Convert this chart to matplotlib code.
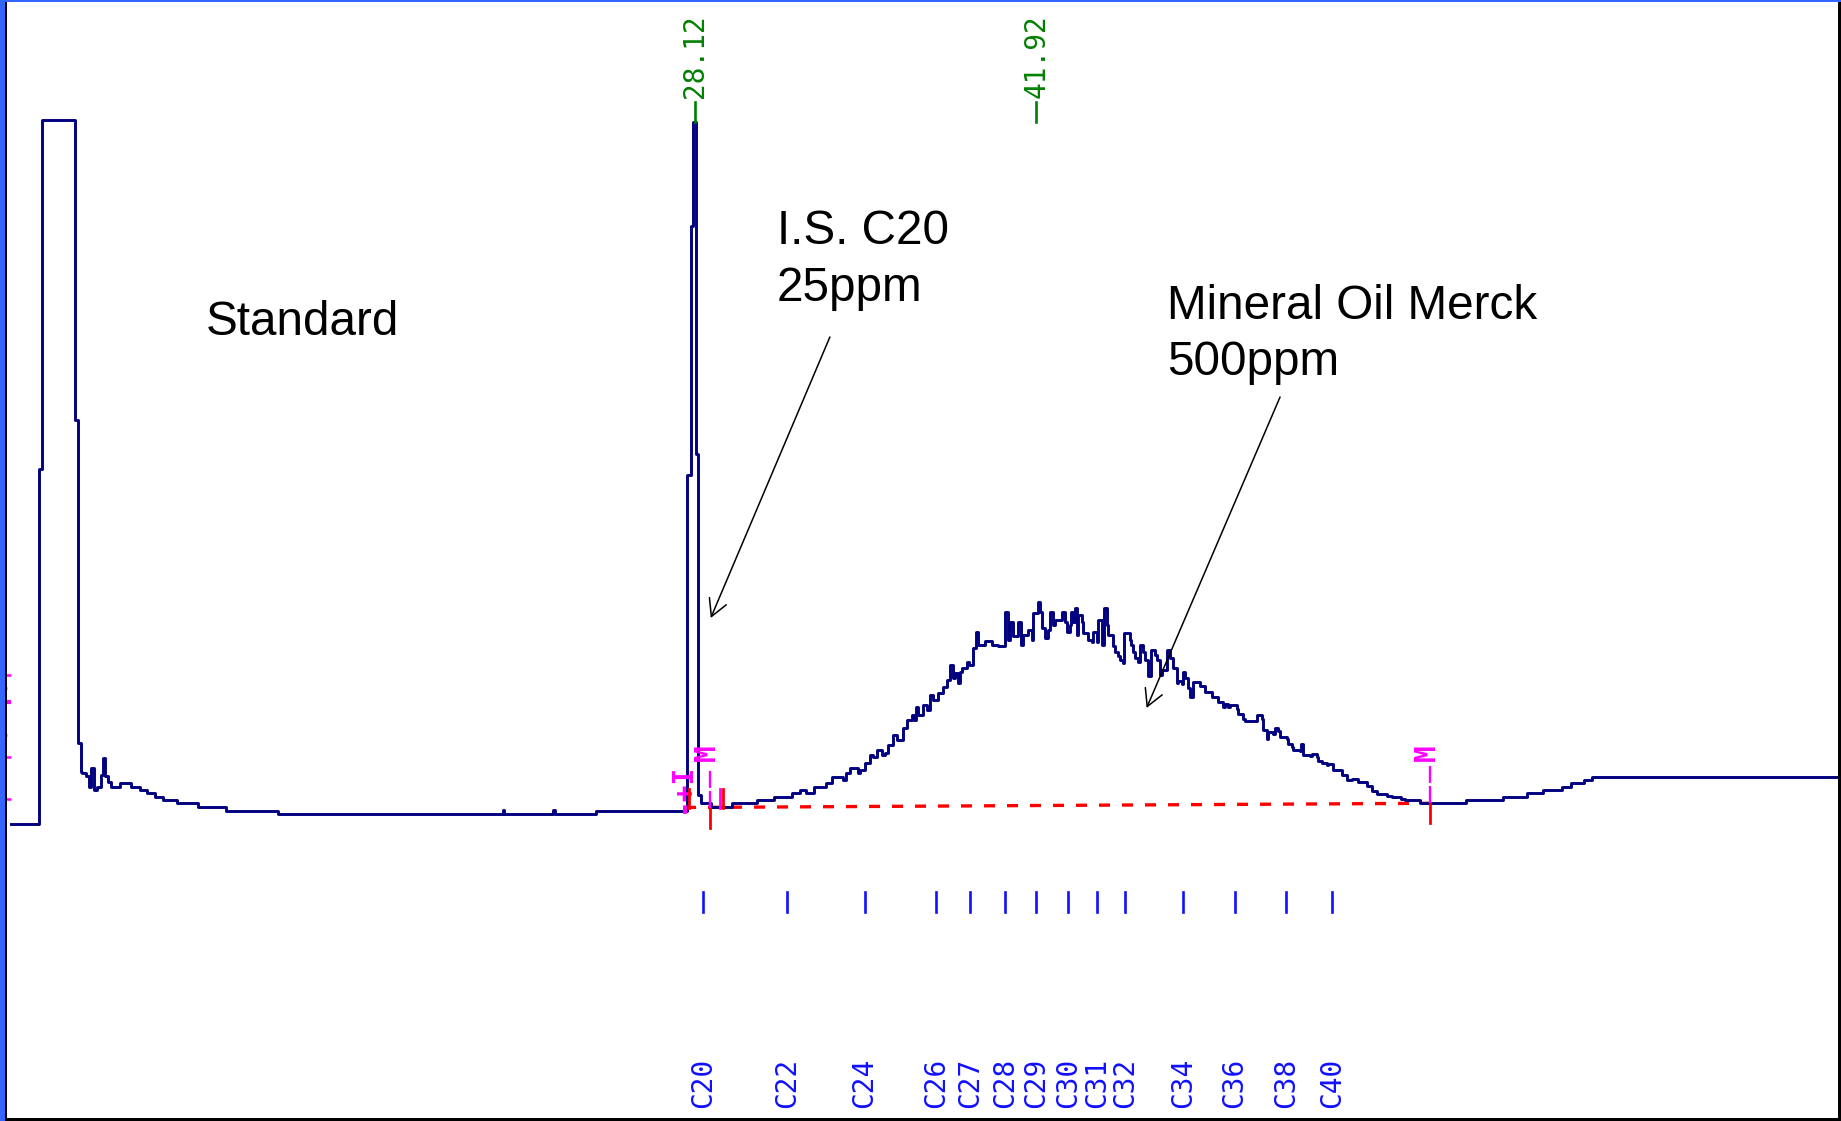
import matplotlib
matplotlib.use("Agg")
import matplotlib.pyplot as plt
from matplotlib.patches import Rectangle

# ---- chromatogram trace: retention time (min) vs detector signal (counts) ----
ret_time = [0.44, 1.58, 1.70, 3.05, 3.16, 3.26, 3.32, 3.48, 3.58, 3.70, 3.80, 3.92,
            4.07, 4.17, 4.25, 4.37, 4.49, 4.85, 5.30, 5.66, 5.93, 6.27, 6.59, 7.18,
            7.99, 9.16, 11.25, 20.33, 20.37, 22.37, 22.45, 24.11,
            27.77, 27.95, 28.05, 28.17, 28.25, 28.34, 28.76, 29.59, 30.62, 31.31,
            32.02, 32.36, 32.62, 32.93, 33.43, 33.65, 34.10, 34.22, 34.38, 34.71,
            34.79, 34.99, 35.19, 35.31, 35.48, 35.68, 35.80, 35.92, 36.12, 36.28,
            36.53, 36.69, 36.89, 36.97, 37.05, 37.13, 37.34, 37.50, 37.62, 37.74,
            37.94, 38.14, 38.31, 38.43, 38.55, 38.63, 38.75, 38.83, 38.91, 39.12,
            39.20, 39.36, 39.48, 39.56, 39.84, 40.13, 40.37, 40.65, 40.77, 40.85,
            40.98, 41.18, 41.30, 41.38, 41.58, 41.74, 41.79, 41.99, 42.07, 42.15,
            42.27, 42.39, 42.47, 42.59, 42.68, 42.96, 43.08, 43.16, 43.28, 43.32,
            43.40, 43.48, 43.57, 43.61, 43.77, 43.81, 44.01, 44.17, 44.21, 44.37,
            44.42, 44.58, 44.66, 44.78, 44.82, 45.02, 45.10, 45.22, 45.30, 45.43,
            45.47, 45.71, 45.75, 45.83, 45.91, 46.03, 46.11, 46.24, 46.32, 46.44,
            46.56, 46.72, 46.80, 46.92, 47.00, 47.21, 47.33, 47.45, 47.61, 47.65,
            47.81, 47.85, 47.93, 48.05, 48.14, 48.26, 48.54, 48.74, 49.03, 49.27,
            49.47, 49.55, 49.67, 49.75, 50.04, 50.08, 50.28, 50.36, 50.85, 51.05,
            51.09, 51.25, 51.29, 51.49, 51.57, 51.70, 51.78, 52.06, 52.10, 52.26,
            52.30, 52.59, 52.63, 52.71, 52.99, 53.07, 53.27, 53.31, 53.48, 53.68,
            53.72, 53.92, 54.28, 54.49, 54.69, 54.93, 55.30, 55.50, 55.70, 56.11,
            56.31, 56.67, 56.83, 57.44, 59.30, 60.80, 61.77, 62.42, 63.18, 63.55,
            64.08, 64.40, 74.43]
signal = [-10, 345, 694, 394, 71, 42, 41, 38, 27, 46, 24, 27,
          39, 56, 38, 32, 27, 31, 27, 24, 21, 17, 14, 11,
          7, 3, 0, 4, 0, 4, 0, 3,
          339, 588, 692, 360, 19, 11, 7, 11, 14, 17,
          21, 24, 21, 27, 31, 37, 34, 41, 46, 41,
          44, 51, 59, 57, 64, 59, 61, 69, 79, 74,
          86, 94, 99, 94, 107, 99, 109, 104, 119, 114,
          121, 127, 134, 149, 136, 141, 131, 142, 146, 152,
          149, 166, 182, 169, 173, 169, 168, 202, 174, 192,
          178, 192, 169, 179, 184, 174, 201, 212, 202, 186,
          176, 184, 202, 189, 194, 202, 192, 182, 189, 202,
          192, 206, 179, 199, 192, 181, 174, 172, 182, 172,
          194, 169, 206, 189, 179, 168, 162, 158, 154, 151,
          181, 174, 169, 162, 156, 152, 169, 162, 154, 138,
          164, 159, 154, 139, 144, 164, 156, 146, 131, 133,
          130, 142, 136, 126, 117, 132, 128, 122, 117, 112,
          107, 110, 107, 109, 105, 100, 95, 93, 99, 95,
          84, 75, 82, 80, 86, 83, 77, 75, 70, 67,
          64, 63, 70, 59, 58, 60, 57, 53, 51, 49,
          50, 44, 39, 34, 35, 32, 28, 23, 20, 18,
          17, 15, 14, 11, 14, 17, 21, 24, 27, 31,
          34, 37, 37]

# peaks found by the integrator
peak_times = [28.12, 41.92]
peak_labels = ["28.12", "41.92"]
peak_top = 692

# n-alkane retention markers
alkane_labels = ["C20", "C22", "C24", "C26", "C27", "C28", "C29",
                 "C30", "C31", "C32", "C34", "C36", "C38", "C40"]
alkane_times = [28.45, 31.84, 34.97, 37.87, 39.25, 40.65, 41.92,
                43.20, 44.37, 45.51, 47.86, 49.94, 52.03, 53.89]

# integration baseline of the mineral oil hump
base_times = [27.71, 57.84]
base_levels = [6.5, 10.7]
event_times = [28.70, 57.86]      # "M" events (dashed magenta)
event_label_times = [28.59, 57.72]
start_marks = [27.87, 29.25]      # small red start/stop ticks
# bits of an event label cut off at the left edge
edge_marks = [139, 126, 112, 79, 57, 33, 15]

NAVY = "#000080"
GREEN = "#008000"
BLUE = "#1010ff"
MAGENTA = "#ff00ff"
RED = "#ff0000"
PIX = "DejaVu Sans Mono"
ARIAL = "Liberation Sans"

fig = plt.figure(figsize=(18.41, 11.21), dpi=100)
ax = fig.add_axes([0, 0, 1, 1])
ax.set_xlim(0, 74.47)
ax.set_ylim(-307, 814)
ax.axis("off")

ax.step(ret_time, signal, where="post", color=NAVY, lw=2.1, zorder=3)

# peak apex ticks with retention time labels
for t, lab in zip(peak_times, peak_labels):
    ax.plot([t, t], [peak_top, peak_top + 20], color=GREEN, lw=1.9, zorder=4)
    ax.text(t, peak_top + 24, lab, rotation=90, ha="center", va="bottom",
            color=GREEN, fontsize=20, family=PIX)

# alkane markers
for t, lab in zip(alkane_times, alkane_labels):
    ax.plot([t, t], [-78, -98], color=BLUE, lw=1.9)
    ax.text(t, -244, lab, rotation=90, ha="center", va="top",
            color=BLUE, fontsize=20, family=PIX)

# integration baseline and events
ax.plot(base_times, base_levels, color=RED, lw=2.4,
        linestyle=(0, (3.3, 3.6)), zorder=2)
for t, lvl in zip(event_times, base_levels):
    ax.plot([t, t], [lvl, lvl - 20], color=RED, lw=2.0, zorder=4)
    ax.plot([t, t], [lvl, lvl + 39], color=MAGENTA, lw=1.7,
            linestyle=(0, (7.2, 1.3)), zorder=4)
for t in event_label_times:
    ax.text(t, 53, "M", rotation=90, ha="center", va="bottom",
            color=MAGENTA, fontsize=20, family=PIX, fontweight="bold")
for t in start_marks:
    ax.plot([t, t], [6, 25], color=RED, lw=2.0, zorder=4)
ax.plot([start_marks[1] - 0.12] * 2, [6, 25], color=MAGENTA, lw=2.0, zorder=4)
ax.text(27.59, 1, "-+I", rotation=90, ha="center", va="bottom",
        color=MAGENTA, fontsize=20, family=PIX, fontweight="bold")
for i, s in enumerate(edge_marks):
    ax.plot([0.12, 0.30 if i % 2 else 0.45], [s, s], color=MAGENTA,
            lw=3.0 if i % 3 == 2 else 1.8, solid_capstyle="butt")

# annotations
ax.text(8.31, 479, "Standard", fontsize=34.3, family=ARIAL, va="baseline")
ax.text(31.42, 570, "I.S. C20", fontsize=34.3, family=ARIAL, va="baseline")
ax.text(31.42, 513, "25ppm", fontsize=34.3, family=ARIAL, va="baseline")
ax.text(47.21, 495, "Mineral Oil Merck", fontsize=34.3, family=ARIAL, va="baseline")
ax.text(47.21, 439, "500ppm", fontsize=34.3, family=ARIAL, va="baseline")

arrow = dict(arrowstyle="->,head_length=0.6,head_width=0.33", lw=1.1,
             color="black", shrinkA=0, shrinkB=0, mutation_scale=20)
ax.annotate("", xy=(28.75, 196), xytext=(33.57, 477), arrowprops=arrow)
ax.annotate("", xy=(46.38, 106), xytext=(51.78, 417), arrowprops=arrow)

# window frame
W, H = 1841.0, 1121.0
for x, y, w, h, c in [(0, 0, 5 / W, 1, "#3366ff"),
                      (0, 1 - 2 / H, 1, 2 / H, "#3366ff"),
                      (5 / W, 0, 2.3 / W, 1 - 2 / H, "black"),
                      (5 / W, 0, 1, 3 / H, "black"),
                      (1 - 3 / W, 0, 3 / W, 1 - 2 / H, "black")]:
    fig.add_artist(Rectangle((x, y), w, h, transform=fig.transFigure,
                             facecolor=c, edgecolor="none", zorder=10))

fig.savefig("out.png", dpi=100)
